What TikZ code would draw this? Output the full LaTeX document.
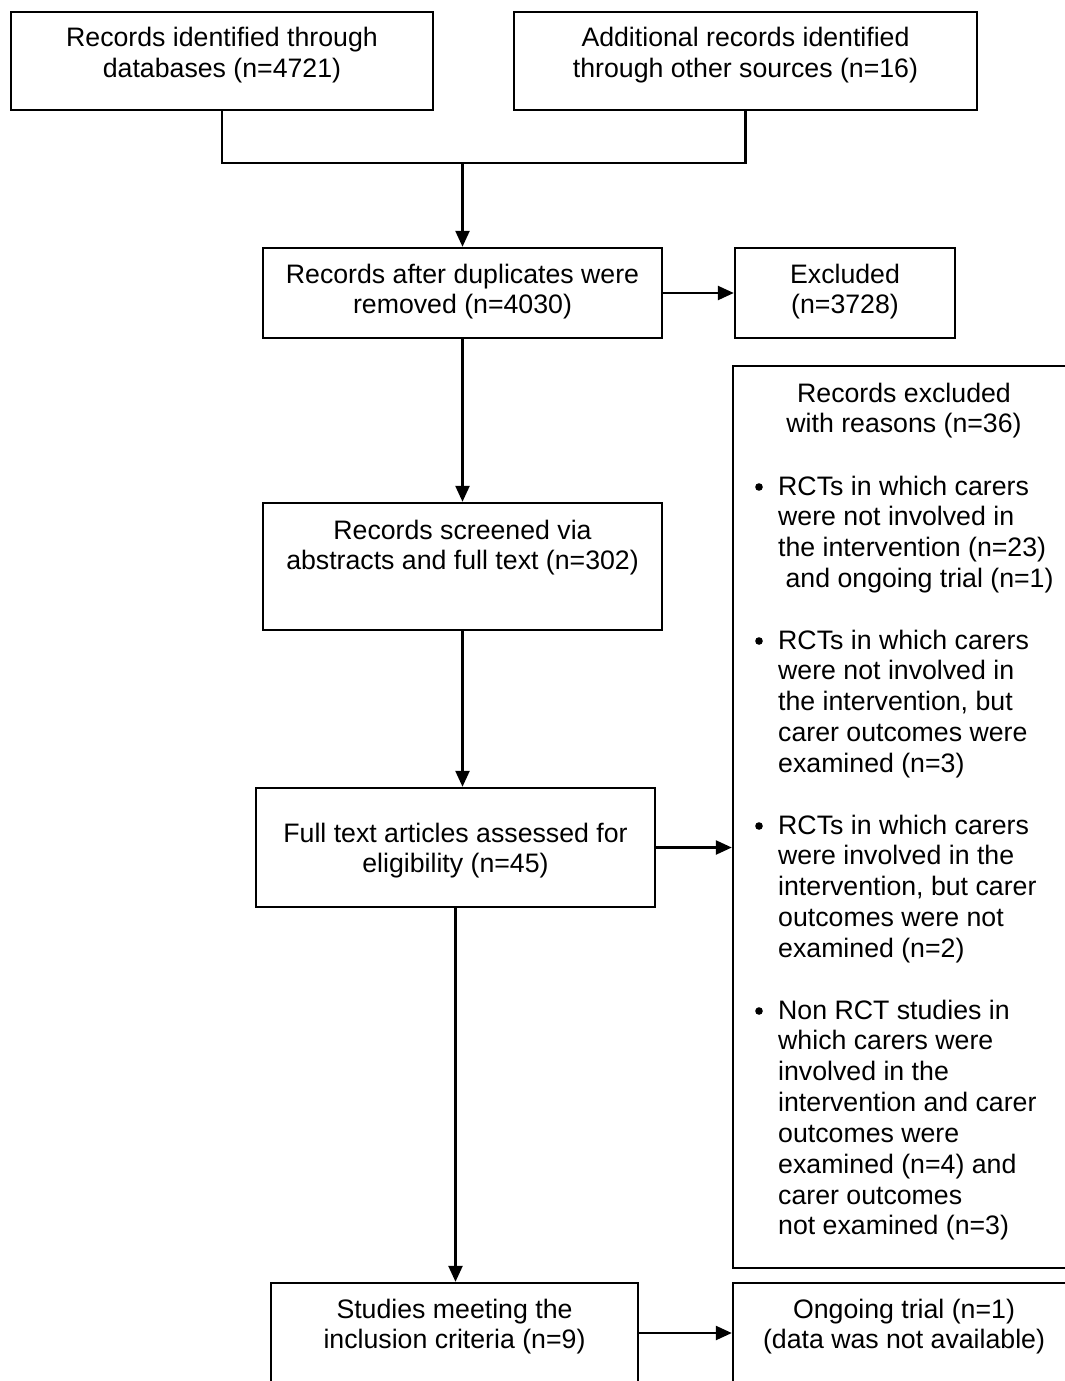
\documentclass[tikz,border=0pt]{standalone}
\usepackage{fontspec}
\setmainfont{Liberation Sans}
\usetikzlibrary{arrows.meta}
\newcommand{\ctrlines}[1]{\begin{tabular}[t]{@{}c@{}}#1\end{tabular}}
\newcommand{\leftlines}[1]{\begin{tabular}[t]{@{}l@{}}#1\end{tabular}}
\begin{document}
\begin{tikzpicture}[x=1pt,y=-1pt,
  box/.style={draw, line width=2.4pt, rectangle, inner sep=0pt},
  txt/.style={font=\fontsize{26.7pt}{30.85pt}\selectfont, inner sep=0pt, anchor=base},
  ltxt/.style={txt, anchor=base west},
  dot/.style={circle, fill=black, inner sep=0pt, minimum size=7.6pt},
  conn/.style={line width=2.4pt},
  arr/.style={conn, -{Triangle[length=16pt,width=14pt]}}]
\useasboundingbox (0,0) rectangle (1065,1381);
\clip (0,0) rectangle (1065,1381);
% boxes
\node[box, minimum width=422pt, minimum height=98pt] (A) at (222,61) {};
\node[box, minimum width=463pt, minimum height=98pt] (B) at (745.5,61) {};
\node[box, minimum width=399pt, minimum height=90pt] (C) at (462.5,293) {};
\node[box, minimum width=220pt, minimum height=90pt] (D) at (845,293) {};
\node[box, minimum width=342pt, minimum height=902pt] (E) at (904,817) {};
\node[box, minimum width=399pt, minimum height=127pt] (G) at (462.5,566.5) {};
\node[box, minimum width=399pt, minimum height=119pt] (H) at (455.5,847.5) {};
\node[box, minimum width=367pt, minimum height=137pt] (I) at (454.5,1351.5) {};
\node[box, minimum width=342pt, minimum height=137pt] (F) at (904,1351.5) {};
% texts
\node[txt] (tA) at (222,47) {\ctrlines{Records identified through\\databases (n=4721)}};
\node[txt] (tB) at (745.5,47) {\ctrlines{Additional records identified\\through other sources (n=16)}};
\node[txt] (tC) at (462.5,283) {\ctrlines{Records after duplicates were\\removed (n=4030)}};
\node[txt] (tD) at (845,283) {\ctrlines{Excluded\\(n=3728)}};
\node[txt] (tE) at (904,402) {\ctrlines{Records excluded\\with reasons (n=36)}};
\node[ltxt] (tE1) at (778,495) {\leftlines{RCTs in which carers\\were not involved in\\the intervention (n=23)\\\ and ongoing trial (n=1)}};
\node[ltxt] (tE2) at (778,649) {\leftlines{RCTs in which carers\\were not involved in\\the intervention, but\\carer outcomes were\\examined (n=3)}};
\node[ltxt] (tE3) at (778,834) {\leftlines{RCTs in which carers\\were involved in the\\intervention, but carer\\outcomes were not\\examined (n=2)}};
\node[ltxt] (tE4) at (778,1019) {\leftlines{Non RCT studies in\\which carers were\\involved in the\\intervention and carer\\outcomes were\\examined (n=4) and\\carer outcomes\\not examined (n=3)}};
\node[dot] (d1) at (759,487) {};
\node[dot] (d2) at (759,641) {};
\node[dot] (d3) at (759,826) {};
\node[dot] (d4) at (759,1011) {};
\node[txt] (tG) at (462.5,539) {\ctrlines{Records screened via\\abstracts and full text (n=302)}};
\node[txt] (tH) at (455.5,842) {\ctrlines{Full text articles assessed for\\eligibility (n=45)}};
\node[txt] (tI) at (454.5,1318) {\ctrlines{Studies meeting the\\inclusion criteria (n=9)}};
\node[txt] (tF) at (904,1318) {\ctrlines{Ongoing trial (n=1)\\(data was not available)}};
% connectors
\coordinate (J) at (462.5,163);
\coordinate (yIF) at (0,1333);
\draw[conn] (A.south) |- (J);
\draw[conn] (B.south) |- (J);
\draw[arr] (J) -- (C.north);
\draw[arr] (C.east) -- (D.west);
\draw[arr] (C.south) -- (G.north);
\draw[arr] (G.south) -- (G.south |- H.north);
\draw[arr] (H.east) -- (H.east -| E.west);
\draw[arr] (H.south) -- (H.south |- I.north);
\draw[arr] (I.east |- yIF) -- (F.west |- yIF);
\end{tikzpicture}
\end{document}
